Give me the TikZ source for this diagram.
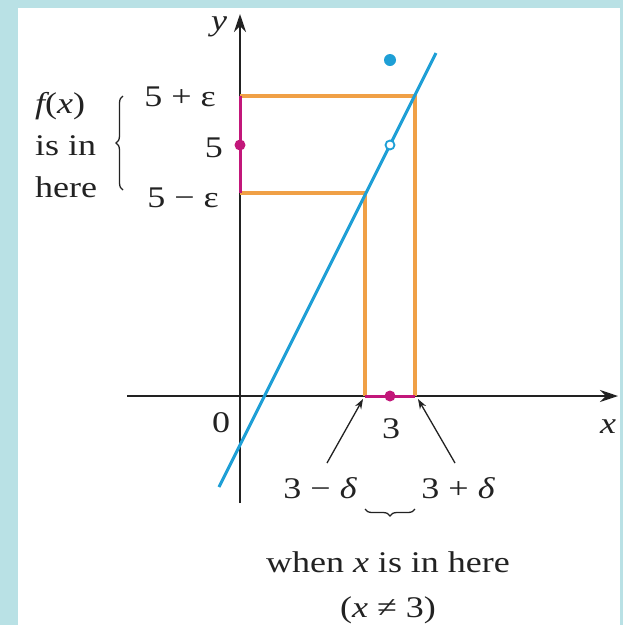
\documentclass[tikz,border=0pt]{standalone}
\usepackage{fontspec}
\setmainfont[FakeStretch=1.2]{Liberation Serif}
\usetikzlibrary{arrows.meta,decorations.pathreplacing}
\definecolor{bgc}{HTML}{B9E1E5}
\definecolor{orng}{HTML}{F0A046}
\definecolor{blu}{HTML}{1E9FD6}
\definecolor{mag}{HTML}{C2177A}
\definecolor{axc}{HTML}{222222}
\begin{document}
\begin{tikzpicture}[x=1pt,y=-1pt,
  lbl/.style={font=\fontsize{30}{36}\selectfont, inner sep=0pt, text=axc},
  axis/.style={draw=axc, line width=2.2pt, -{Stealth[length=18pt,width=12pt]}},
  orline/.style={draw=orng, line width=3.2pt, line join=miter},
  magline/.style={draw=mag, line width=3pt},
  bluline/.style={draw=blu, line width=3pt},
  pointer/.style={draw=axc, line width=1.3pt, -{Stealth[length=10pt,width=7pt]}},
  bracestyle/.style={draw=axc, line width=1.3pt, decorate, decoration={brace, amplitude=7pt}}]
\fill[bgc] (0,0) rectangle (623,625);
\fill[white] (18,8) rectangle (620,625);
\useasboundingbox (0,0) rectangle (623,625);

% axes
\coordinate (xs) at (127,396); \coordinate (xe) at (618,396);
\coordinate (ys) at (240,503); \coordinate (ye) at (240,14);
\draw[axis] (xs) -- (xe);
\draw[axis] (ys) -- (ye);

% orange epsilon-delta box lines
\coordinate (ua) at (240,96);  \coordinate (uc) at (415,96);  \coordinate (ub) at (415,396);
\coordinate (la) at (240,193); \coordinate (lc) at (365,193); \coordinate (lb) at (365,396);
\draw[orline] (ua) -- (uc) -- (ub);
\draw[orline] (la) -- (lc) -- (lb);

% magenta intervals
\draw[magline] (ua) -- (la);
\draw[magline] (lb) -- (ub);
\fill[mag] (240,145) circle (5.5pt);
\fill[mag] (390,396) circle (5.5pt);

% blue line
\coordinate (bl0) at (219,487); \coordinate (bl1) at (436,53);
\draw[bluline] (bl0) -- (bl1);
\draw[blu, line width=1.8pt, fill=white] (390,145) circle (4.5pt);
\fill[blu] (390,60) circle (6pt);

% axis labels
\node[lbl, anchor=base] (ylab) at (219,30) {\itshape y};
\node[lbl, anchor=base] (xlab) at (608,433) {\itshape x};
\node[lbl, anchor=base] (zero) at (221,432) {0};
\node[lbl, anchor=base] (three) at (391,438) {3};

% y labels
\node[lbl, anchor=base east] (ype) at (216,106) {5 + ε};
\node[lbl, anchor=base east] (yfive) at (223,157) {5};
\node[lbl, anchor=base east] (yme) at (219,207) {5 − ε};

% left text
\node[lbl, anchor=base west] (t1) at (35,113) {\itshape f\upshape(\itshape x\upshape)};
\node[lbl, anchor=base west] (t2) at (35,155) {is in};
\node[lbl, anchor=base west] (t3) at (35,197) {here};
\draw[bracestyle] (123,190) -- (123,96);

% x labels
\node[lbl, anchor=base] (xmd) at (320,498) {3 − \itshape δ};
\node[lbl, anchor=base] (xpd) at (458,498) {3 + \itshape δ};
\coordinate (pm) at (363,399);
\coordinate (pp) at (418,399);
\draw[pointer] (327,463) -- (pm);
\draw[pointer] (455,463) -- (pp);
\draw[bracestyle] (415,509) -- (365,509);

\node[lbl, anchor=base] (w1) at (388,572) {when \itshape x\upshape\ is in here};
\node[lbl, anchor=base] (w2) at (388,617) {(\itshape x\upshape\ ≠ 3)};
\end{tikzpicture}
\end{document}
